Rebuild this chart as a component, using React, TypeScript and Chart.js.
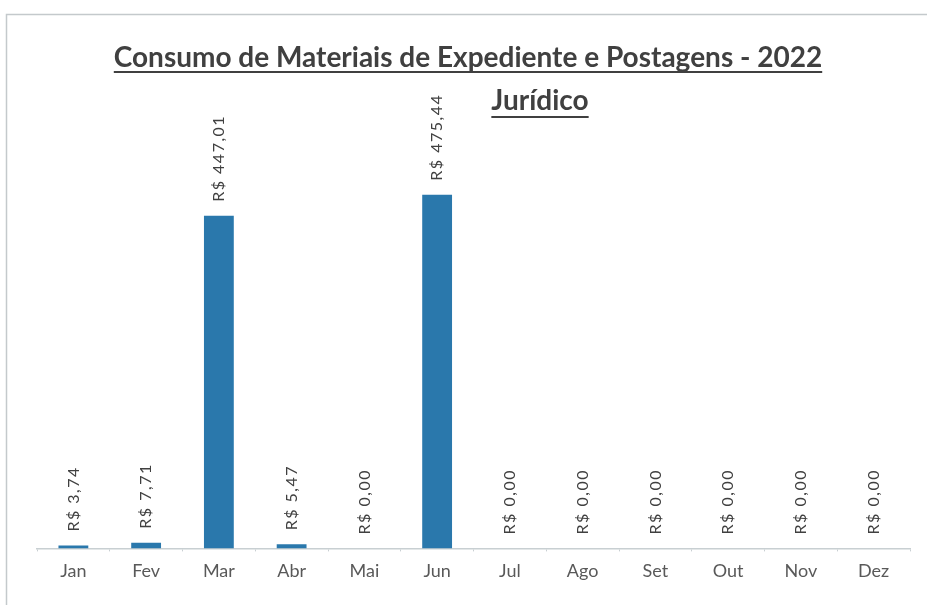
import React, { useEffect, useRef } from "react";
import { Chart, registerables } from "chart.js";

Chart.register(...registerables);

const categories = ["Jan", "Fev", "Mar", "Abr", "Mai", "Jun", "Jul", "Ago", "Set", "Out", "Nov", "Dez"];
const values = [3.74, 7.71, 447.01, 5.47, 0, 475.44, 0, 0, 0, 0, 0, 0];
const titleLine1 = "Consumo de Materiais de Expediente e Postagens - 2022";
const titleLine2 = "Jurídico";

const formatBRL = (v: number) => "R$ " + v.toFixed(2).replace(".", ",");

const framePlugin = {
  id: "frame",
  beforeDraw(chart: any) {
    const ctx = chart.ctx;
    ctx.save();
    ctx.fillStyle = "#ffffff";
    ctx.fillRect(0, 0, chart.width, chart.height);
    ctx.strokeStyle = "#c4c9cc";
    ctx.lineWidth = 1.5;
    ctx.beginPath();
    ctx.moveTo(6.5, chart.height);
    ctx.lineTo(6.5, 14.5);
    ctx.lineTo(chart.width, 14.5);
    ctx.stroke();
    ctx.restore();
  },
};

const titlePlugin = {
  id: "underlinedTitle",
  afterDraw(chart: any) {
    const ctx = chart.ctx;
    ctx.save();
    ctx.fillStyle = "#404040";
    ctx.strokeStyle = "#404040";
    ctx.textBaseline = "alphabetic";
    ctx.textAlign = "center";
    ctx.font = "bold 28px Lato, 'Open Sans', sans-serif";
    const drawUnder = (text: string, cx: number, base: number, ul: number) => {
      ctx.fillText(text, cx, base);
      const w = ctx.measureText(text).width;
      ctx.lineWidth = 2;
      ctx.beginPath();
      ctx.moveTo(cx - w / 2, ul);
      ctx.lineTo(cx + w / 2, ul);
      ctx.stroke();
    };
    drawUnder(titleLine1, 468, 67, 72);
    drawUnder(titleLine2, 540, 110, 117);
    ctx.restore();
  },
};

const valueLabelPlugin = {
  id: "valueLabels",
  afterDatasetsDraw(chart: any) {
    const ctx = chart.ctx;
    const meta = chart.getDatasetMeta(0);
    ctx.save();
    ctx.fillStyle = "#404040";
    ctx.font = "16px Lato, 'Open Sans', sans-serif";
    (ctx as any).letterSpacing = "1.5px";
    meta.data.forEach((bar: any, i: number) => {
      ctx.save();
      ctx.translate(bar.x, bar.y - 14);
      ctx.rotate(-Math.PI / 2);
      ctx.textAlign = "left";
      ctx.textBaseline = "middle";
      ctx.fillText(formatBRL(values[i]), 0, 0);
      ctx.restore();
    });
    (ctx as any).letterSpacing = "0px";
    ctx.restore();
  },
};

export default function App() {
  const canvasRef = useRef<HTMLCanvasElement | null>(null);

  useEffect(() => {
    if (!canvasRef.current) return;
    const chart = new Chart(canvasRef.current, {
      type: "bar",
      data: {
        labels: categories,
        datasets: [
          {
            data: values,
            backgroundColor: "#2a78ac",
            barPercentage: 0.41,
            categoryPercentage: 1,
          },
        ],
      },
      options: {
        animation: false,
        responsive: true,
        maintainAspectRatio: false,
        devicePixelRatio: 1,
        layout: { padding: { left: 37, right: 17, top: 102, bottom: 14 } },
        plugins: {
          legend: { display: false },
          title: { display: false },
          tooltip: { enabled: false },
        },
        scales: {
          x: {
            grid: {
              display: true,
              offset: true,
              drawOnChartArea: false,
              drawTicks: true,
              tickLength: 3,
              color: "#c8cfd2",
            },
            border: { display: true, color: "#c8cfd2", width: 1.5 },
            ticks: {
              color: "#595959",
              padding: 9,
              font: { family: "Lato, 'Open Sans', sans-serif", size: 18 },
            },
          },
          y: {
            display: false,
            min: 0,
            max: 600,
          },
        },
      },
      plugins: [framePlugin, titlePlugin, valueLabelPlugin],
    });
    return () => chart.destroy();
  }, []);

  return (
    <div style={{ position: "fixed", left: 0, top: 0, width: 927, height: 605, background: "#fff" }}>
      <canvas ref={canvasRef} />
    </div>
  );
}
